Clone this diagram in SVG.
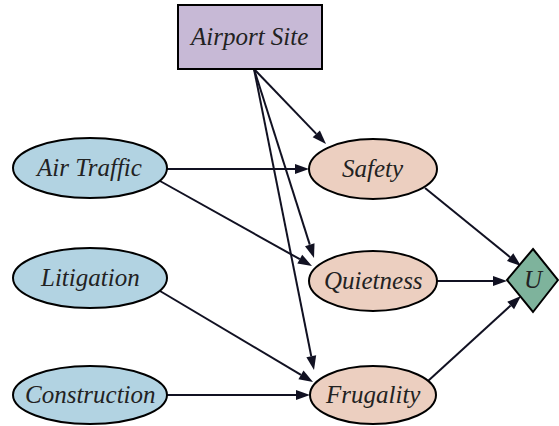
<svg xmlns="http://www.w3.org/2000/svg" width="559" height="426" viewBox="0 0 559 426">
<rect width="559" height="426" fill="#fff"/>
<g id="connectors" stroke="#111122" stroke-width="2" fill="#111122">
<line x1="254" y1="69" x2="316.3" y2="133.9"/><polygon stroke="none" points="326,144 312.69,137.36 319.91,130.44"/>
<line x1="254" y1="69" x2="309.76" y2="244.66"/><polygon stroke="none" points="314,258 305,246.17 314.53,243.15"/>
<line x1="254" y1="69" x2="311.26" y2="356.27"/><polygon stroke="none" points="314,370 306.36,357.25 316.16,355.29"/>
<line x1="167" y1="169" x2="295" y2="169"/><polygon stroke="none" points="309,169 295,164 295,174"/>
<line x1="160" y1="181" x2="299.78" y2="259.17"/><polygon stroke="none" points="312,266 297.34,263.53 302.22,254.81"/>
<line x1="160" y1="291" x2="300.97" y2="374.84"/><polygon stroke="none" points="313,382 298.41,379.14 303.53,370.54"/>
<line x1="167" y1="395" x2="296" y2="395"/><polygon stroke="none" points="310,395 296,390 296,400"/>
<line x1="425" y1="188" x2="510.13" y2="257.17"/><polygon stroke="none" points="521,266 506.98,261.05 513.28,253.29"/>
<line x1="437" y1="281" x2="493" y2="281"/><polygon stroke="none" points="507,281 493,276 493,286"/>
<line x1="428" y1="381" x2="510.67" y2="305.44"/><polygon stroke="none" points="521,296 514.04,309.13 507.3,301.75"/>
</g>
<g id="airport"><rect x="178" y="5" width="144" height="64" fill="#c7b9d6" stroke="#000" stroke-width="2"/><text x="191" y="45" font-family="Liberation Serif" font-style="italic" font-size="25" fill="#222">Airport Site</text></g>
<g id="airtraffic"><ellipse cx="90" cy="168" rx="77" ry="30" fill="#b2d3e2" stroke="#000" stroke-width="2"/><text x="37" y="176" font-family="Liberation Serif" font-style="italic" font-size="25" fill="#222">Air Traffic</text></g>
<g id="litigation"><ellipse cx="90" cy="278" rx="77" ry="30" fill="#b2d3e2" stroke="#000" stroke-width="2"/><text x="41" y="286" font-family="Liberation Serif" font-style="italic" font-size="25" fill="#222">Litigation</text></g>
<g id="construction"><ellipse cx="90" cy="395" rx="77" ry="29" fill="#b2d3e2" stroke="#000" stroke-width="2"/><text x="25" y="403" font-family="Liberation Serif" font-style="italic" font-size="25" fill="#222">Construction</text></g>
<g id="safety"><ellipse cx="373" cy="169" rx="64" ry="30" fill="#eccfc0" stroke="#000" stroke-width="2"/><text x="342" y="177" font-family="Liberation Serif" font-style="italic" font-size="25" fill="#222">Safety</text></g>
<g id="quietness"><ellipse cx="373" cy="281" rx="64" ry="30" fill="#eccfc0" stroke="#000" stroke-width="2"/><text x="324" y="289" font-family="Liberation Serif" font-style="italic" font-size="25" fill="#222">Quietness</text></g>
<g id="frugality"><ellipse cx="373" cy="395" rx="63" ry="29" fill="#eccfc0" stroke="#000" stroke-width="2"/><text x="326" y="403" font-family="Liberation Serif" font-style="italic" font-size="25" fill="#222">Frugality</text></g>
<g id="U"><polygon points="533,249 558,280 533,312 507,280" fill="#7eb39c" stroke="#000" stroke-width="2"/><text x="524" y="288" font-family="Liberation Serif" font-style="italic" font-size="25" fill="#222">U</text></g>
</svg>
